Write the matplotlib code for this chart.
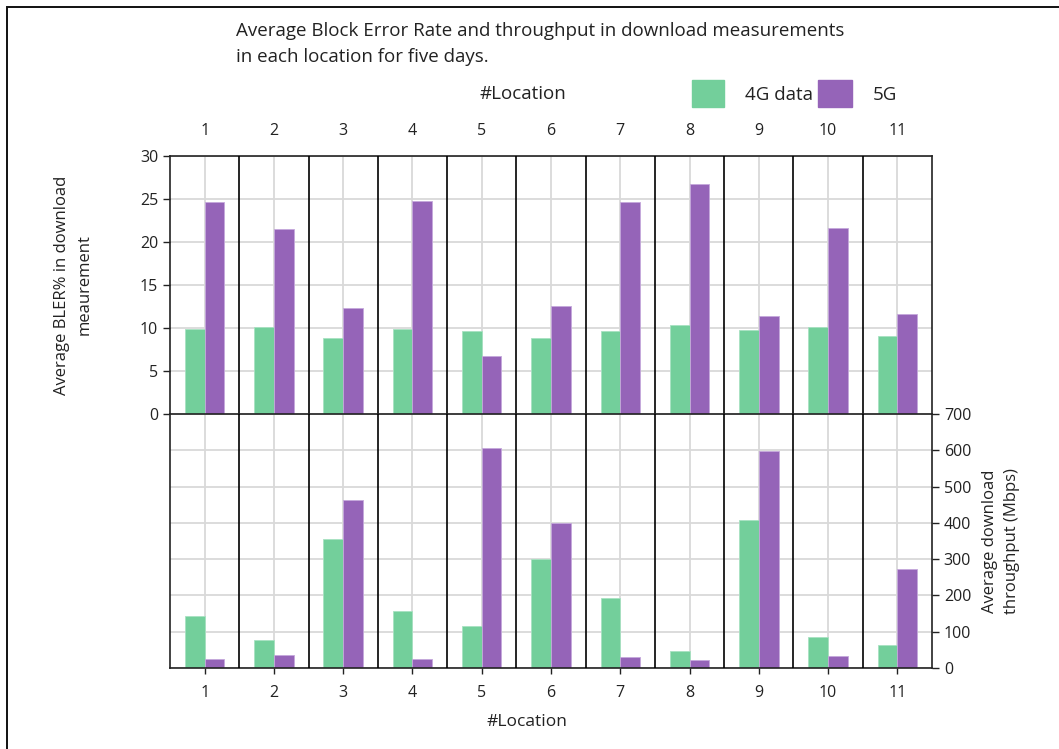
import matplotlib.pyplot as plt
from matplotlib.patches import Rectangle

# data
locations = list(range(1, 12))
bler_4g = [9.9, 10.1, 8.8, 9.9, 9.7, 8.8, 9.7, 10.3, 9.8, 10.1, 9.1]
bler_5g = [24.6, 21.5, 12.3, 24.8, 6.7, 12.6, 24.7, 26.8, 11.4, 21.6, 11.6]
thr_4g = [142, 76, 355, 157, 117, 300, 192, 47, 407, 85, 64]
thr_5g = [26, 36, 464, 26, 605, 400, 30, 22, 599, 32, 273]

GREEN = '#73CF9B'
PURPLE = '#9564B8'
GRID = '#D9D9D9'
TXT = '#222222'
BW = 0.285

plt.rcParams['font.family'] = ['Open Sans', 'DejaVu Sans']

fig = plt.figure(figsize=(10.59, 7.49), dpi=100)
W, H = 1059, 749


def px_axes(x0, y0, x1, y1):
    return fig.add_axes([x0 / W, 1 - y1 / H, (x1 - x0) / W, (y1 - y0) / H])


ax_top = px_axes(170, 156, 932, 414)
ax_bot = px_axes(170, 414, 932, 668)

for ax, g, p in [(ax_top, bler_4g, bler_5g), (ax_bot, thr_4g, thr_5g)]:
    ax.set_xlim(0.5, 11.5)
    ax.set_axisbelow(True)
    ax.grid(True, color=GRID, lw=1.3)
    ax.bar([x - BW for x in locations], g, BW, align='edge', color=GREEN,
           edgecolor='#A8E2C2', lw=0.6, zorder=2, label='4G data')
    ax.bar(locations, p, BW, align='edge', color=PURPLE,
           edgecolor='#C5A8DB', lw=0.6, zorder=2, label='5G')
    for s in [x + 0.5 for x in locations[:-1]]:
        ax.axvline(s, color='black', lw=1.2, zorder=3)
    for sp in ax.spines.values():
        sp.set_color(TXT)
        sp.set_linewidth(1.2)
    ax.set_xticks(locations)
    ax.tick_params(labelsize=11.5, colors=TXT, width=1.0, length=5)

# top panel: BLER
ax_top.set_ylim(0, 30)
ax_top.set_yticks(range(0, 31, 5))
ax_top.xaxis.tick_top()
ax_top.tick_params(axis='x', length=0, pad=12)
ax_top.set_ylabel('Average BLER% in download\nmeaurement', fontsize=12,
                  labelpad=34, linespacing=1.6, color=TXT)
ax_top.spines['bottom'].set_visible(False)

# bottom panel: throughput
ax_bot.set_ylim(0, 700)
ax_bot.set_yticks(range(0, 701, 100))
ax_bot.yaxis.tick_right()
ax_bot.yaxis.set_label_position('right')
ax_bot.set_ylabel('Average download\nthroughput (Mbps)', fontsize=12,
                  labelpad=8, linespacing=1.45, color=TXT)
ax_bot.tick_params(axis='x', length=4, pad=8)
fig.text(527 / W, 1 - 722 / H, '#Location', fontsize=12.5,
         ha='center', va='center', color=TXT)

# titles and legend
fig.text(236 / W, 1 - 31 / H, 'Average Block Error Rate and throughput in download measurements',
         fontsize=13.5, va='center', color=TXT)
fig.text(236 / W, 1 - 57 / H, 'in each location for five days.',
         fontsize=13.5, va='center', color=TXT)
fig.text(523 / W, 1 - 94 / H, '#Location', fontsize=13.5,
         ha='center', va='center', color=TXT)
fig.patches.append(Rectangle((692 / W, 1 - 107 / H), 32 / W, 27 / H,
                             transform=fig.transFigure, color=GREEN))
fig.text(745 / W, 1 - 95 / H, '4G data', fontsize=13.5,
         va='center', color=TXT)
fig.patches.append(Rectangle((818 / W, 1 - 107 / H), 34 / W, 27 / H,
                             transform=fig.transFigure, color=PURPLE))
fig.text(873 / W, 1 - 95 / H, '5G', fontsize=13.5,
         va='center', color=TXT)

# outer frame (left and top edges visible)
fig.patches.append(Rectangle((7 / W, -0.01), 1.1, 1 - 7 / H + 0.01,
                             transform=fig.transFigure, fill=False,
                             ec='#111111', lw=1.4))

fig.savefig('out.png', dpi=100)
